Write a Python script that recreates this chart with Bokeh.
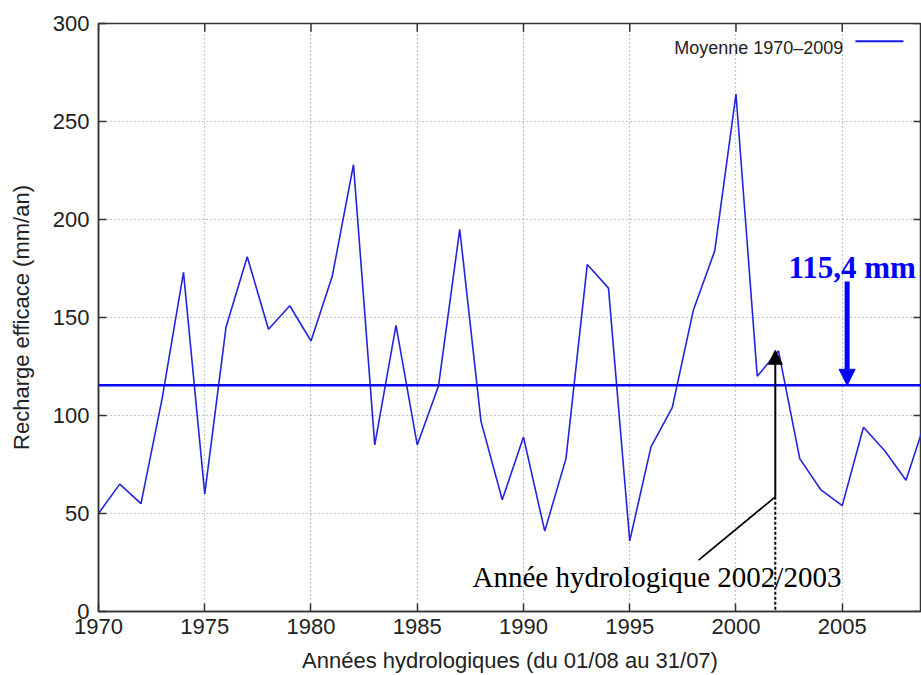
from bokeh.plotting import figure
from bokeh.models import Span, Label, Arrow, NormalHead, Range1d, FixedTicker
from bokeh.embed import file_html
from bokeh.resources import INLINE

# ---- data ----
years = list(range(1970, 2010))
recharge = [50, 65, 55, 109, 173, 60, 145, 181, 144, 156,
            138, 171, 228, 85, 146, 85, 115, 195, 97, 57,
            89, 41, 78, 177, 165, 36, 84, 104, 154, 184,
            264, 120, 133, 78, 62, 54, 94, 82, 67, 100]
mean_value = 115.4
mean_label = "Moyenne 1970\u20132009"
mean_text = "115,4 mm"
event_year = 2001.85
event_text = "Ann\u00e9e hydrologique 2002/2003"
x_ticks = [1970, 1975, 1980, 1985, 1990, 1995, 2000, 2005]
y_ticks = [0, 50, 100, 150, 200, 250, 300]
x_start, x_end = 1970, 2008.73
y_start, y_end = 0, 300

# ---- annotation positions (data coordinates) ----
legend_text_x, legend_text_y = 2005.05, 287.6
legend_line_x0, legend_line_x1, legend_line_y = 2005.62, 2007.88, 290.9
mm_text_x, mm_text_y = 2002.47, 175.6
blue_arrow_x, blue_arrow_y0 = 2005.23, 168.4
black_arrow_y0, black_arrow_y1 = 58.5, 133.3
diag_x1, diag_y1 = 1998.24, 26.2
event_text_x, event_text_y = 1987.6, 17.6
tick_len_y = 4.2      # inner tick length along y (data units)
tick_len_x = 0.38     # inner tick length along x (data units)

SANS = "Liberation Sans"
SERIF = "Liberation Serif"
AXIS_COLOR = "#333333"

p = figure(width=921, height=675, output_backend="svg", toolbar_location=None,
           x_range=Range1d(x_start, x_end), y_range=Range1d(y_start, y_end),
           min_border_left=98, min_border_top=23, min_border_right=0,
           min_border_bottom=64, background_fill_color="white",
           border_fill_color="white")
p.outline_line_color = AXIS_COLOR
p.outline_line_width = 1.5

# axes
for ax in (p.xaxis[0], p.yaxis[0]):
    ax.axis_line_color = AXIS_COLOR
    ax.axis_line_width = 1.5
    ax.major_tick_line_color = AXIS_COLOR
    ax.major_tick_line_width = 1.5
    ax.major_tick_in = 8
    ax.major_tick_out = 0
    ax.minor_tick_line_color = None
    ax.major_label_text_font = SANS
    ax.major_label_text_font_size = "22px"
    ax.major_label_text_color = "#222222"
    ax.axis_label_text_font = SANS
    ax.axis_label_text_font_size = "22px"
    ax.axis_label_text_font_style = "normal"
    ax.axis_label_text_color = "#222222"

p.xaxis.ticker = FixedTicker(ticks=x_ticks)
p.yaxis.ticker = FixedTicker(ticks=y_ticks)
p.xaxis.axis_label = "Ann\u00e9es hydrologiques (du 01/08 au 31/07)"
p.yaxis.axis_label = "Recharge efficace (mm/an)"
p.xaxis.major_label_standoff = 7
p.xaxis.axis_label_standoff = 11
p.yaxis.major_label_standoff = 9
p.yaxis.axis_label_standoff = 16

# inner ticks on top and right frame edges
p.segment(x0=x_ticks, y0=[y_end] * len(x_ticks), x1=x_ticks,
          y1=[y_end - tick_len_y] * len(x_ticks),
          line_color=AXIS_COLOR, line_width=1.5)
p.segment(x0=[x_end] * len(y_ticks), y0=y_ticks, x1=[x_end - tick_len_x] * len(y_ticks),
          y1=y_ticks, line_color=AXIS_COLOR, line_width=1.5)

# grid
p.xgrid.ticker = FixedTicker(ticks=x_ticks)
p.ygrid.ticker = FixedTicker(ticks=y_ticks)
p.grid.grid_line_color = "#8a8a8a"
p.grid.grid_line_dash = "1 3"
p.grid.grid_line_width = 1.2

# series
p.line(years, recharge, line_color="#2424dc", line_width=1.6)

# mean line
p.add_layout(Span(location=mean_value, dimension="width", line_color="#0a0af5",
                  line_width=2.5))

# legend
p.add_layout(Label(x=legend_text_x, y=legend_text_y, text=mean_label,
                   text_font=SANS, text_font_size="18px", text_color="#222222",
                   text_align="right", text_baseline="alphabetic"))
p.segment(x0=[legend_line_x0], y0=[legend_line_y], x1=[legend_line_x1],
          y1=[legend_line_y], line_color="#1a1af0", line_width=2)

# 115,4 mm annotation
p.add_layout(Label(x=mm_text_x, y=mm_text_y, text=mean_text, text_font=SERIF,
                   text_font_size="31px", text_font_style="bold",
                   text_color="#0000ff", text_align="left",
                   text_baseline="alphabetic"))
p.add_layout(Arrow(end=NormalHead(size=16, fill_color="#0000ff", line_color="#0000ff"),
                   x_start=blue_arrow_x, y_start=blue_arrow_y0,
                   x_end=blue_arrow_x, y_end=mean_value,
                   line_color="#0000ff", line_width=5))

# event annotation
p.add_layout(Arrow(end=NormalHead(size=14, fill_color="black", line_color="black"),
                   x_start=event_year, y_start=black_arrow_y0,
                   x_end=event_year, y_end=black_arrow_y1,
                   line_color="black", line_width=2))
p.segment(x0=[event_year], y0=[black_arrow_y0], x1=[diag_x1], y1=[diag_y1],
          line_color="black", line_width=1.8)
p.segment(x0=[event_year], y0=[black_arrow_y0], x1=[event_year], y1=[y_start],
          line_color="black", line_width=2, line_dash="3 2")
p.add_layout(Label(x=event_text_x, y=event_text_y, text=event_text, text_font=SERIF,
                   text_font_size="29px", text_color="black", text_align="left",
                   text_baseline="alphabetic"))

open("out.html", "w").write(file_html(p, INLINE))
